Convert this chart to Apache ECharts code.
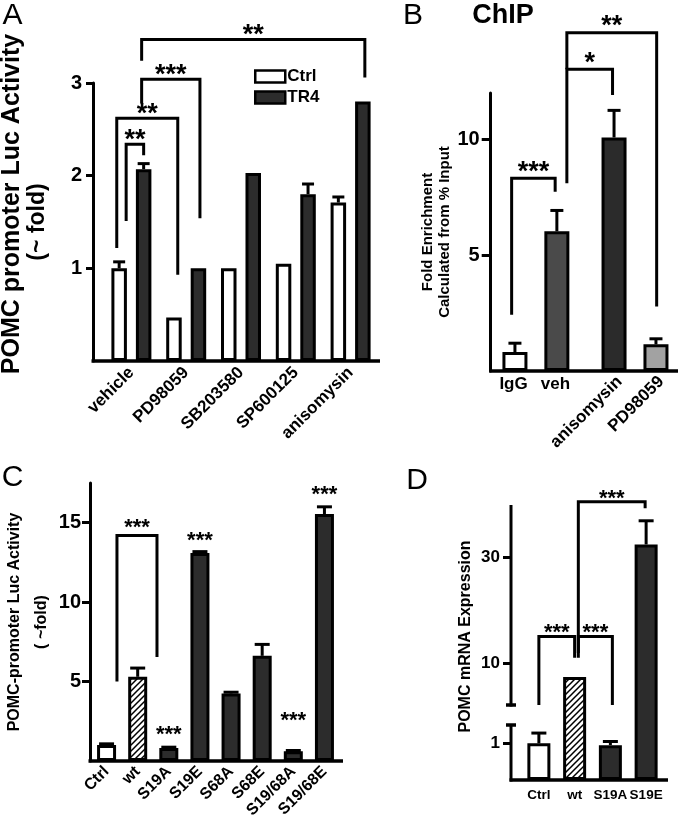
<!DOCTYPE html>
<html>
<head>
<meta charset="utf-8">
<title>POMC promoter activity</title>
<script src="https://cdn.jsdelivr.net/npm/echarts@6.0.0/dist/echarts.min.js"></script>
<style>
html,body{margin:0;padding:0;background:#ffffff;}
#chart{width:680px;height:826px;}
</style>
</head>
<body>
<div id="chart"></div>
<script>
// ================= DATA =================
// Panel A – POMC promoter Luc activity (~fold)
const aCategories = ['vehicle', 'PD98059', 'SB203580', 'SP600125', 'anisomysin'];
const aSeriesNames = ['Ctrl', 'TR4'];
const aCtrl = [1.00, 0.47, 1.00, 1.05, 1.71];
const aCtrlErr = [0.07, 0, 0, 0, 0.06];
const aTR4 = [2.07, 1.00, 2.03, 1.80, 2.80];
const aTR4Err = [0.06, 0, 0, 0.11, 0];
const aTicks = [1, 2, 3];
// brackets: [left category, left series, right category, right series, left foot, top, right foot, label]
const aBrackets = [
  [0, 0, 0, 1, 1.51, 2.34, 2.22, '**'],
  [0, 0, 1, 0, 1.22, 2.62, 0.93, '**'],
  [0, 1, 1, 1, 2.78, 3.04, 1.54, '***'],
  [0, 1, 4, 1, 3.24, 3.47, 3.06, '**']
];

// Panel B – ChIP fold enrichment
const bCategories = ['IgG', 'veh', 'anisomysin', 'PD98059'];
const bValues = [0.82, 6.03, 10.08, 1.15];
const bErrors = [0.38, 0.90, 1.17, 0.24];
const bTicks = [5, 10];
// brackets: [left category, right category, left foot, top, right foot, label]
const bBrackets = [
  [0, 1, 2.43, 8.32, 7.74, '***'],
  [1, 2, 8.10, 13.02, 11.91, '*'],
  [1, 3, 13.02, 14.60, 2.78, '**']
];

// Panel C – POMC-promoter Luc activity (~fold)
const cCategories = ['Ctrl', 'wt', 'S19A', 'S19E', 'S68A', 'S68E', 'S19/68A', 'S19/68E'];
const cValues = [1.00, 5.30, 0.82, 13.10, 4.25, 6.62, 0.62, 15.55];
const cErrors = [0.08, 0.55, 0.05, 0.08, 0.08, 0.72, 0.04, 0.45];
const cTicks = [5, 10, 15];
// significance marks above single bars: [category, height, label]
const cStars = [[2, 1.96, '***'], [3, 14.16, '***'], [6, 2.80, '***'], [7, 17.06, '***']];
const cBrackets = [[0, 1, 5.0, 14.2, 6.55, '***']];

// Panel D – POMC mRNA expression (broken axis)
const dCategories = ['Ctrl', 'wt', 'S19A', 'S19E'];
const dValues = [1.00, 7.30, 0.95, 32.5];
const dErrors = [0.28, 0, 0.10, 4.5];
const dTicks = [1, 10, 30];
const dBrackets = [
  [0, 1, 2.0, 15.0, 11.0, '***'],
  [1, 2, 11.0, 15.0, 2.0, '***'],
  [1, 3, 11.9, 40.6, 39.4, '***']
];

// ================= STYLE / LAYOUT =================
const FONT = "'Liberation Sans', Arial, Helvetica, sans-serif";
const INK = '#000000';
const DARK = '#2c2c2c';
const BORDER = 3;

function hatchCanvas() {
  const c = document.createElement('canvas');
  c.width = 6; c.height = 6;
  const g = c.getContext('2d');
  g.fillStyle = '#ffffff'; g.fillRect(0, 0, 6, 6);
  g.strokeStyle = '#000000'; g.lineWidth = 1.5;
  g.beginPath();
  g.moveTo(-1, 7); g.lineTo(7, -1);
  g.moveTo(-1, 1); g.lineTo(1, -1);
  g.moveTo(5, 7); g.lineTo(7, 5);
  g.stroke();
  return c;
}
const HATCH = { image: hatchCanvas(), repeat: 'repeat' };

const aFills = ['#ffffff', '#2c2c2c'];
const bFills = ['#ffffff', '#4a4a4a', '#2b2b2b', '#a2a2a2'];
const bSlot = [0, 0, 1, 1];
const cFills = ['#ffffff', HATCH, DARK, DARK, DARK, DARK, DARK, DARK];
const dFills = ['#ffffff', HATCH, DARK, DARK];

const LAY = {
  A: { grid: { left: 104, top: 83, width: 274, height: 278 }, yOffset: 11, extendRight: 2,
       n: 2, barW: 15.5, barGap: 0.58, capW: 12, lw: 3, starSize: 27, starGap: 10,
       nudges: [[7, 0], [-2.4, 3.8], [-2, 1.5], [-2, 2]] },
  B: { grid: { left: 501.6, top: 93, width: 167.7, height: 278 }, yOffset: 10.9, extendRight: 8.7,
       n: 2, barW: 25, barGap: -0.39, capW: 13, lw: 3, starSize: 27, starGap: 12,
       nudges: [[-3.3, -1.7], [10, -1.5], [10, 0.7]], rotLabelShift: 13 },
  C: { grid: { left: 91, top: 483, width: 249, height: 278 }, yOffset: 1, extendRight: 3,
       n: 1, barW: 19, barGap: 0, capW: 15, lw: 3, starSize: 22, starGap: 12,
       nudges: [[10.4, 19.3]] },
  D: { grid: { left: 521, top: 505, width: 143, height: 275 }, yOffset: 10, extendRight: 4,
       n: 1, barW: 23, barGap: 0, capW: 15, lw: 3, starSize: 22, starGap: 8,
       nudges: [[0, 0], [3.7, 2], [3.7, -1]] }
};

// broken-axis scale for panel D (pixels of each segment)
const D_SCALE = { lowMax: 1.5, highMin: 2, highMax: 40, lowSpan: 55, gapSpan: 20, highSpan: 200 };
function dT(v) {
  const s = D_SCALE;
  if (v <= s.lowMax) return v / s.lowMax * s.lowSpan;
  if (v < s.highMin) return s.lowSpan + (v - s.lowMax) / (s.highMin - s.lowMax) * s.gapSpan;
  return s.lowSpan + s.gapSpan + (v - s.highMin) / (s.highMax - s.highMin) * s.highSpan;
}
const ident = v => v;

function txt(size, extra) {
  return Object.assign({ fontFamily: FONT, fontWeight: 'bold', fontSize: size, color: INK }, extra || {});
}

function barOffset(lay, i) {
  const step = lay.barW * (1 + lay.barGap);
  const total = lay.n * lay.barW + (lay.n - 1) * lay.barW * lay.barGap;
  return -total / 2 + lay.barW / 2 + i * step;
}
function centerX(api, cat, s, lay) {
  return api.coord([cat, 0])[0] + barOffset(lay, s);
}

// ---------- custom series builders ----------
function errorSeries(ai, lay, items, yMap) {
  return {
    type: 'custom', xAxisIndex: ai, yAxisIndex: ai, z: 4, silent: true,
    data: items.map(it => [it[0], yMap(it[2] + it[3])]),
    renderItem(params, api) {
      const it = items[params.dataIndex];
      const x = centerX(api, it[0], it[1], lay);
      const y0 = api.coord([it[0], yMap(it[2])])[1];
      const y1 = api.coord([it[0], yMap(it[2] + it[3])])[1];
      const hw = lay.capW / 2;
      return { type: 'group', children: [
        { type: 'line', shape: { x1: x, y1: y0, x2: x, y2: y1 }, style: { stroke: INK, lineWidth: lay.lw } },
        { type: 'line', shape: { x1: x - hw, y1: y1, x2: x + hw, y2: y1 }, style: { stroke: INK, lineWidth: lay.lw } }
      ] };
    }
  };
}

function starText(x, y, label, lay) {
  return { type: 'text', x: x, y: y + lay.starSize * 0.22,
    style: { text: label, fontFamily: FONT, fontWeight: 'bold', fontSize: lay.starSize, fill: INK,
             align: 'center', verticalAlign: 'middle' } };
}

// list entries: [lCat, lSeries, rCat, rSeries, lFoot, top, rFoot, label]
function bracketSeries(ai, lay, list, yMap) {
  return {
    type: 'custom', xAxisIndex: ai, yAxisIndex: ai, z: 5, silent: true,
    data: list.map(b => [b[0], yMap(b[5])]),
    renderItem(params, api) {
      const k = params.dataIndex, b = list[k];
      const nud = lay.nudges[k] || [0, 0];
      const xl = centerX(api, b[0], b[1], lay) + nud[0];
      const xr = centerX(api, b[2], b[3], lay) + nud[1];
      const yl = api.coord([b[0], yMap(b[4])])[1];
      const yt = api.coord([b[0], yMap(b[5])])[1];
      const yr = api.coord([b[0], yMap(b[6])])[1];
      return { type: 'group', children: [
        { type: 'polyline', shape: { points: [[xl, yl], [xl, yt], [xr, yt], [xr, yr]] },
          style: { stroke: INK, lineWidth: lay.lw, fill: 'none', lineJoin: 'miter' } },
        starText((xl + xr) / 2, yt - lay.starGap, b[7], lay)
      ] };
    }
  };
}

function starSeries(ai, lay, list, yMap) {
  return {
    type: 'custom', xAxisIndex: ai, yAxisIndex: ai, z: 5, silent: true,
    data: list.map(s => [s[0], yMap(s[1])]),
    renderItem(params, api) {
      const s = list[params.dataIndex];
      const x = centerX(api, s[0], 0, lay);
      const y = api.coord([s[0], yMap(s[1])])[1];
      return starText(x, y, s[2], lay);
    }
  };
}

function frameSeries(ai, lay, extra) {
  return {
    type: 'custom', xAxisIndex: ai, yAxisIndex: ai, z: 6, silent: true,
    data: [[0, 0]],
    renderItem(params, api) {
      const cs = params.coordSys;
      const yb = cs.y + cs.height;
      const children = [{ type: 'line',
        shape: { x1: cs.x - lay.yOffset - lay.lw / 2, y1: yb, x2: cs.x + cs.width + lay.extendRight, y2: yb },
        style: { stroke: INK, lineWidth: lay.lw + 0.5 } }];
      if (extra) extra(api, cs, children);
      return { type: 'group', children: children };
    }
  };
}

// ---------- axes ----------
function valueAxis(ai, opt) {
  return Object.assign({
    gridIndex: ai, type: 'value', splitLine: { show: false },
    axisLine: { show: true, lineStyle: { color: INK, width: 3 } },
    axisTick: { show: true, length: 8, lineStyle: { color: INK, width: 3 } },
    axisLabel: txt(20, { margin: 11 }),
    nameLocation: 'middle', nameRotate: 90
  }, opt);
}
function catAxis(ai, cats, label) {
  return {
    gridIndex: ai, type: 'category', data: cats, boundaryGap: true,
    axisLine: { show: false }, axisTick: { show: false }, splitLine: { show: false },
    axisLabel: Object.assign({ interval: 0 }, label)
  };
}

function gridOf(lay) { return Object.assign({ outerBoundsMode: 'none', containLabel: false }, lay.grid); }

// ---------- build series data ----------
const aErrItems = [];
aCtrl.forEach((v, i) => { if (aCtrlErr[i] > 0) aErrItems.push([i, 0, v, aCtrlErr[i]]); });
aTR4.forEach((v, i) => { if (aTR4Err[i] > 0) aErrItems.push([i, 1, v, aTR4Err[i]]); });

const bErrItems = bValues.map((v, i) => [i, bSlot[i], v, bErrors[i]]);
const bBr = bBrackets.map(b => [b[0], bSlot[b[0]], b[1], bSlot[b[1]], b[2], b[3], b[4], b[5]]);

const cErrItems = cValues.map((v, i) => [i, 0, v, cErrors[i]]);
const cBr = cBrackets.map(b => [b[0], 0, b[1], 0, b[2], b[3], b[4], b[5]]);

const dErrItems = [];
dValues.forEach((v, i) => { if (dErrors[i] > 0) dErrItems.push([i, 0, v, dErrors[i]]); });
const dBr = dBrackets.map(b => [b[0], 0, b[1], 0, b[2], b[3], b[4], b[5]]);

const barBase = { type: 'bar', silent: true, itemStyle: { borderColor: INK, borderWidth: BORDER } };

const dTickPos = dTicks.map(dT);

const option = {
  animation: false,
  backgroundColor: '#ffffff',
  graphic: [
    { type: 'text', x: 12.5, y: 16, style: { text: 'A', fontFamily: FONT, fontSize: 30, fill: INK, align: 'center', verticalAlign: 'middle' } },
    { type: 'text', x: 413, y: 16, style: { text: 'B', fontFamily: FONT, fontSize: 30, fill: INK, align: 'center', verticalAlign: 'middle' } },
    { type: 'text', x: 503, y: 16, style: { text: 'ChIP', fontFamily: FONT, fontWeight: 'bold', fontSize: 27, fill: INK, align: 'center', verticalAlign: 'middle' } },
    { type: 'text', x: 12.5, y: 478, style: { text: 'C', fontFamily: FONT, fontSize: 30, fill: INK, align: 'center', verticalAlign: 'middle' } },
    { type: 'text', x: 417, y: 481, style: { text: 'D', fontFamily: FONT, fontSize: 30, fill: INK, align: 'center', verticalAlign: 'middle' } }
  ],
  legend: {
    data: aSeriesNames, orient: 'vertical', left: 249, top: 63, icon: 'rect',
    itemWidth: 30, itemHeight: 12, itemGap: 4, selectedMode: false,
    textStyle: txt(17, { padding: [0, 0, 0, -3] }),
    itemStyle: { borderColor: INK, borderWidth: 2.5 }
  },
  grid: [gridOf(LAY.A), gridOf(LAY.B), gridOf(LAY.C), gridOf(LAY.D),
         Object.assign({}, gridOf(LAY.B), { left: LAY.B.grid.left + LAY.B.rotLabelShift })],
  xAxis: [
    catAxis(0, aCategories, txt(17, { rotate: 45, margin: 9 })),
    catAxis(1, bCategories, txt(17, { rotate: 0, margin: 5,
      formatter: (v, i) => i < 2 ? '{s|' + v + '}' : '',
      rich: { s: txt(17, { padding: [0, 18, 0, 0] }) } })),
    catAxis(2, cCategories, txt(16, { rotate: 45, margin: 8 })),
    catAxis(3, dCategories, txt(13.5, { rotate: 0, margin: 8 })),
    catAxis(4, bCategories, txt(17, { rotate: 45, margin: 8, formatter: (v, i) => i >= 2 ? v : '' }))
  ],
  yAxis: [
    valueAxis(0, { min: 0, max: 3, interval: 1, offset: LAY.A.yOffset,
      axisTick: { show: true, length: 7, customValues: aTicks, lineStyle: { color: INK, width: 3 } },
      axisLabel: txt(20, { margin: 11, customValues: aTicks }),
      name: '{a|POMC promoter Luc Activity}\n{b|(~ fold)}', nameGap: 43,
      nameTextStyle: { rich: {
        a: txt(25, { align: 'center', padding: [0, 0, 0, 36], lineHeight: 25 }),
        b: txt(23, { align: 'center', lineHeight: 25 }) } } }),
    valueAxis(1, { min: 0, max: 12, interval: 5, offset: LAY.B.yOffset,
      axisTick: { show: true, length: 9, customValues: bTicks, lineStyle: { color: INK, width: 3 } },
      axisLabel: txt(20, { margin: 11, customValues: bTicks }),
      name: 'Fold Enrichment\nCalculated from % Input', nameGap: 23,
      nameTextStyle: txt(15, { lineHeight: 17 }) }),
    valueAxis(2, { min: 0, max: 17.5, interval: 5, offset: LAY.C.yOffset,
      axisTick: { show: true, length: 8, customValues: cTicks, lineStyle: { color: INK, width: 3 } },
      axisLabel: txt(20, { margin: 9, customValues: cTicks }),
      name: 'POMC-promoter Luc Activity\n( ~fold)', nameGap: 33,
      nameTextStyle: txt(16, { lineHeight: 27 }) }),
    valueAxis(3, { min: 0, max: dT(D_SCALE.highMax), offset: LAY.D.yOffset,
      axisLine: { show: false },
      axisTick: { show: true, length: 8, customValues: dTickPos, lineStyle: { color: INK, width: 3 } },
      axisLabel: txt(17, { margin: 11, customValues: dTickPos,
        formatter: v => { const k = dTickPos.findIndex(p => Math.abs(p - v) < 1e-6); return k >= 0 ? String(dTicks[k]) : ''; } }),
      name: 'POMC mRNA Expression', nameGap: 37,
      nameTextStyle: txt(16, { padding: [0, 0, 0, 12] }) }),
    valueAxis(4, { min: 0, max: 12, show: false })
  ],
  series: [
    // ----- A -----
    Object.assign({}, barBase, { name: 'Ctrl', xAxisIndex: 0, yAxisIndex: 0, data: aCtrl,
      barWidth: LAY.A.barW, barGap: (LAY.A.barGap * 100) + '%',
      itemStyle: { color: aFills[0], borderColor: INK, borderWidth: BORDER } }),
    Object.assign({}, barBase, { name: 'TR4', xAxisIndex: 0, yAxisIndex: 0, data: aTR4,
      barWidth: LAY.A.barW, barGap: (LAY.A.barGap * 100) + '%',
      itemStyle: { color: aFills[1], borderColor: INK, borderWidth: BORDER } }),
    errorSeries(0, LAY.A, aErrItems, ident),
    bracketSeries(0, LAY.A, aBrackets, ident),
    frameSeries(0, LAY.A),
    // ----- B -----
    Object.assign({}, barBase, { name: 'B-slot0', xAxisIndex: 1, yAxisIndex: 1,
      barWidth: LAY.B.barW, barGap: (LAY.B.barGap * 100) + '%',
      data: bValues.map((v, i) => bSlot[i] === 0 ? { value: v, itemStyle: { color: bFills[i] } } : '-') }),
    Object.assign({}, barBase, { name: 'B-slot1', xAxisIndex: 1, yAxisIndex: 1,
      barWidth: LAY.B.barW, barGap: (LAY.B.barGap * 100) + '%',
      data: bValues.map((v, i) => bSlot[i] === 1 ? { value: v, itemStyle: { color: bFills[i] } } : '-') }),
    errorSeries(1, LAY.B, bErrItems, ident),
    bracketSeries(1, LAY.B, bBr, ident),
    frameSeries(1, LAY.B),
    // ----- C -----
    Object.assign({}, barBase, { name: 'C', xAxisIndex: 2, yAxisIndex: 2, barWidth: LAY.C.barW,
      data: cValues.map((v, i) => ({ value: v, itemStyle: { color: cFills[i] } })) }),
    errorSeries(2, LAY.C, cErrItems, ident),
    bracketSeries(2, LAY.C, cBr, ident),
    starSeries(2, LAY.C, cStars, ident),
    frameSeries(2, LAY.C),
    // ----- D -----
    Object.assign({}, barBase, { name: 'D', xAxisIndex: 3, yAxisIndex: 3, barWidth: LAY.D.barW,
      data: dValues.map((v, i) => ({ value: dT(v), itemStyle: { color: dFills[i] } })) }),
    errorSeries(3, LAY.D, dErrItems, dT),
    bracketSeries(3, LAY.D, dBr, dT),
    frameSeries(3, LAY.D, function (api, cs, children) {
      const x = cs.x - LAY.D.yOffset;
      const py = v => api.coord([0, dT(v)])[1];
      const segs = [[0, D_SCALE.lowMax], [D_SCALE.highMin, D_SCALE.highMax]];
      segs.forEach(s => {
        children.push({ type: 'line', shape: { x1: x, y1: py(s[0]) + 1.5, x2: x, y2: py(s[1]) },
          style: { stroke: INK, lineWidth: 3 } });
      });
      [D_SCALE.lowMax, D_SCALE.highMin].forEach(v => {
        children.push({ type: 'line', shape: { x1: x - 5, y1: py(v), x2: x + 5, y2: py(v) },
          style: { stroke: INK, lineWidth: 3.5 } });
      });
    })
  ]
};

const chart = echarts.init(document.getElementById('chart'), null, { renderer: 'canvas' });
chart.setOption(option);
</script>
</body>
</html>
